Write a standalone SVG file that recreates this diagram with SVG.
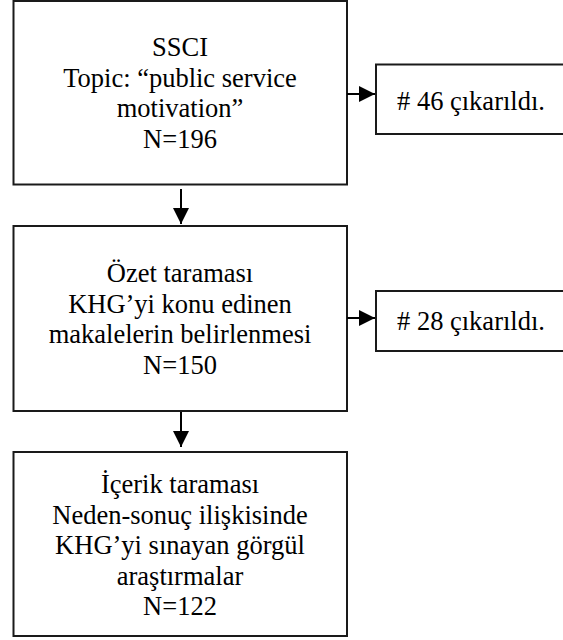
<svg xmlns="http://www.w3.org/2000/svg" width="563" height="640" viewBox="0 0 563 640">
<style>
.box{fill:#fff;stroke:#1a1a1a;stroke-width:2}
.c{text-anchor:middle}
.ln{stroke:#000;stroke-width:2;fill:none}
</style>
<defs>
<marker id="ah" markerUnits="userSpaceOnUse" markerWidth="16" markerHeight="16" refX="16" refY="8" orient="auto">
<path d="M0,0 L16,8 L0,16 Z" fill="#000"/>
</marker>
</defs>
<rect width="563" height="640" fill="#fff"/>
<g id="node-ssci" font-family="Liberation Serif" font-size="26.5" fill="#000">
<rect class="box" x="13.5" y="1" width="333.5" height="183.5"/>
<text class="c" x="180" y="56">SSCI</text>
<text class="c" x="180" y="86.6">Topic: “public service</text>
<text class="c" x="180" y="117.2">motivation”</text>
<text class="c" x="180" y="147.8">N=196</text>
</g>
<g id="node-removed46" font-family="Liberation Serif" font-size="26.5" fill="#000">
<rect class="box" x="376" y="64.5" width="200" height="69.5"/>
<text x="397" y="110">#&#160;46 çıkarıldı.</text>
</g>
<g id="node-ozet" font-family="Liberation Serif" font-size="26.5" fill="#000">
<rect class="box" x="13.5" y="226" width="333.5" height="185"/>
<text class="c" x="180" y="282">Özet taraması</text>
<text class="c" x="180" y="312.6">KHG’yi konu edinen</text>
<text class="c" x="180" y="343.2">makalelerin belirlenmesi</text>
<text class="c" x="180" y="373.8">N=150</text>
</g>
<g id="node-removed28" font-family="Liberation Serif" font-size="26.5" fill="#000">
<rect class="box" x="376" y="291" width="200" height="60"/>
<text x="397" y="330">#&#160;28 çıkarıldı.</text>
</g>
<g id="node-icerik" font-family="Liberation Serif" font-size="26.5" fill="#000">
<rect class="box" x="13.5" y="452" width="333.5" height="184"/>
<text class="c" x="180" y="493">İçerik taraması</text>
<text class="c" x="180" y="523.6">Neden-sonuç ilişkisinde</text>
<text class="c" x="180" y="554.2">KHG’yi sınayan görgül</text>
<text class="c" x="180" y="584.8">araştırmalar</text>
<text class="c" x="180" y="615.4">N=122</text>
</g>
<g id="connectors">
<line class="ln" x1="347" y1="94" x2="375" y2="94" marker-end="url(#ah)"/>
<line class="ln" x1="347" y1="318" x2="375" y2="318" marker-end="url(#ah)"/>
<line class="ln" x1="181" y1="189" x2="181" y2="224" marker-end="url(#ah)"/>
<line class="ln" x1="181" y1="412" x2="181" y2="447" marker-end="url(#ah)"/>
</g>
</svg>
